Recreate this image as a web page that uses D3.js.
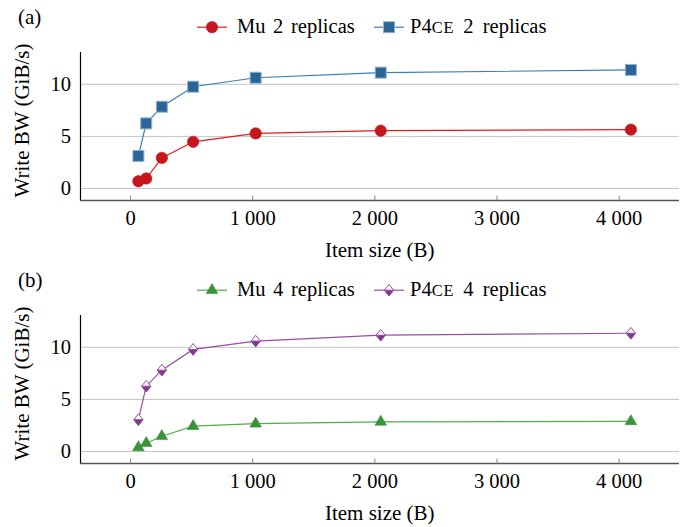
<!DOCTYPE html>
<html>
<head>
<meta charset="utf-8">
<script src="https://cdn.jsdelivr.net/npm/d3@7"></script>
<style>
  body { margin: 0; background: #fff; }
</style>
</head>
<body>
<div id="chart"></div>
<script>
// item sizes in bytes
let sizes = [64, 128, 256, 512, 1024, 2048, 4096]

// write bandwidth, GiB/s
let mu2 = [0.70, 0.96, 2.94, 4.48, 5.29, 5.55, 5.65]
let p4ce2 = [3.13, 6.25, 7.85, 9.77, 10.63, 11.12, 11.38]
let mu4 = [0.41, 0.80, 1.47, 2.44, 2.67, 2.85, 2.90]
let p4ce4 = [3.06, 6.27, 7.81, 9.80, 10.60, 11.16, 11.35]

let xTicks = [0, 1000, 2000, 3000, 4000]
let yTicks = [0, 5, 10]
let panelLabels = ['(a)', '(b)']

let width = 694
let height = 527
let fontFam = "'Liberation Serif', 'Times New Roman', serif"
let fs = 20.5

let svg = d3
  .select('#chart')
  .append('svg')
  .attr('width', width)
  .attr('height', height)
  .attr('font-family', fontFam)

let x = d3.scaleLinear().domain([-410, 4490]).range([80.5, 679])

function fmtX(v) {
  return d3.format(',')(v).replace(',', ' ')
}

function marker(g, kind, color, fill) {
  if (kind === 'circle') {
    g.append('circle').attr('r', 5.7).attr('fill', fill).attr('stroke', color).attr('stroke-width', 0.6)
  } else if (kind === 'square') {
    g.append('rect')
      .attr('x', -5.5).attr('y', -5.5).attr('width', 11).attr('height', 11)
      .attr('fill', fill).attr('stroke', color).attr('stroke-width', 1)
  } else if (kind === 'triangle') {
    g.append('path')
      .attr('d', 'M0,-6.6L5.8,3.4L-5.8,3.4Z')
      .attr('fill', fill).attr('stroke', color).attr('stroke-width', 0.6)
  } else if (kind === 'diamond') {
    g.append('path')
      .attr('d', 'M0,-5.8L4.6,0L0,5.8L-4.6,0Z')
      .attr('fill', '#fff').attr('stroke', color).attr('stroke-width', 1)
    g.append('path')
      .attr('d', 'M-4.6,0L4.6,0L0,5.8Z')
      .attr('fill', fill).attr('stroke', color).attr('stroke-width', 1)
  }
}

function drawPanel(top, label, series) {
  let y = d3.scaleLinear().domain([-1.15, 13.1]).range([top + 148.5, top])
  let g = svg.append('g')

  // grid lines
  g.selectAll('.grid')
    .data(yTicks)
    .enter()
    .append('line')
    .attr('x1', x.range()[0])
    .attr('x2', x.range()[1])
    .attr('y1', d => y(d))
    .attr('y2', d => y(d))
    .attr('stroke', '#c4c4c4')
    .attr('stroke-width', 1)

  // y tick labels
  g.selectAll('.ylab')
    .data(yTicks)
    .enter()
    .append('text')
    .attr('x', 71)
    .attr('y', d => y(d) + 6.8)
    .attr('text-anchor', 'end')
    .attr('font-family', fontFam)
    .attr('font-size', fs)
    .text(d => d)

  // x axis
  let bottom = y.range()[0]
  g.append('line')
    .attr('x1', x.range()[0]).attr('x2', x.range()[1])
    .attr('y1', bottom).attr('y2', bottom)
    .attr('stroke', '#555').attr('stroke-width', 1.3)
  g.selectAll('.xt')
    .data(xTicks)
    .enter()
    .append('line')
    .attr('x1', d => x(d)).attr('x2', d => x(d))
    .attr('y1', bottom).attr('y2', bottom - 5)
    .attr('stroke', '#888').attr('stroke-width', 1)
  g.selectAll('.xlab')
    .data(xTicks)
    .enter()
    .append('text')
    .attr('x', d => x(d))
    .attr('y', bottom + 24.5)
    .attr('text-anchor', 'middle')
    .attr('font-family', fontFam)
    .attr('font-size', fs)
    .text(d => fmtX(d))

  // y axis line
  g.append('line')
    .attr('x1', x.range()[0]).attr('x2', x.range()[0])
    .attr('y1', top).attr('y2', bottom)
    .attr('stroke', '#000').attr('stroke-width', 1.2)

  // axis titles
  g.append('text')
    .attr('x', (x.range()[0] + x.range()[1]) / 2)
    .attr('y', bottom + 56)
    .attr('text-anchor', 'middle')
    .attr('font-family', fontFam)
    .attr('font-size', fs + 0.5)
    .text('Item size (B)')
  g.append('text')
    .attr('transform', 'translate(29,' + (top + 68.5) + ') rotate(-90)')
    .attr('text-anchor', 'middle')
    .attr('font-family', fontFam)
    .attr('font-size', fs + 0.5)
    .text('Write BW (GiB/s)')

  // panel label
  g.append('text')
    .attr('x', 18)
    .attr('y', top - 28.5)
    .attr('font-family', fontFam)
    .attr('font-size', fs + 0.5)
    .text(label)

  // lines and markers
  let line = d3.line().x(d => x(d[0])).y(d => y(d[1]))
  series.forEach(s => {
    let pts = sizes.map((v, i) => [v, s.values[i]])
    g.append('path')
      .datum(pts)
      .attr('d', line)
      .attr('fill', 'none')
      .attr('stroke', s.line)
      .attr('stroke-width', 1.2)
    g.selectAll('.m')
      .data(pts)
      .enter()
      .append('g')
      .attr('transform', d => 'translate(' + x(d[0]) + ',' + y(d[1]) + ')')
      .each(function () {
        marker(d3.select(this), s.kind, s.stroke, s.fill)
      })
  })

  // legend
  let ly = top - 24.8
  let lx = [197, 374]
  series.forEach((s, i) => {
    let lg = g.append('g').attr('transform', 'translate(' + lx[i] + ',' + ly + ')')
    lg.append('line').attr('x1', 0).attr('x2', 30).attr('y1', 0).attr('y2', 0)
      .attr('stroke', s.line).attr('stroke-width', 1.2)
    let mg = lg.append('g').attr('transform', 'translate(15,0)')
    marker(mg, s.kind, s.stroke, s.fill)
    let t = lg.append('text')
      .attr('x', i === 0 ? 40 : 36)
      .attr('y', 6.2)
      .attr('font-family', fontFam)
      .attr('font-size', fs)
      .attr('word-spacing', i === 0 ? 2.5 : 4)
    if (s.name.startsWith('P4CE')) {
      t.append('tspan').text('P4')
      t.append('tspan').attr('font-size', fs * 0.8).attr('letter-spacing', 0.8).text('CE')
      t.append('tspan').text(s.name.slice(4))
    } else {
      t.text(s.name)
    }
  })
}

drawPanel(52, panelLabels[0], [
  { name: 'Mu 2 replicas', values: mu2, kind: 'circle', line: '#e41a1c', stroke: '#c01418', fill: '#c4161c' },
  { name: 'P4CE 2 replicas', values: p4ce2, kind: 'square', line: '#377eb8', stroke: '#8fb3d6', fill: '#2c6496' }
])
drawPanel(315, panelLabels[1], [
  { name: 'Mu 4 replicas', values: mu4, kind: 'triangle', line: '#4daf4a', stroke: '#3a923a', fill: '#3a923a' },
  { name: 'P4CE 4 replicas', values: p4ce4, kind: 'diamond', line: '#984ea3', stroke: '#984ea3', fill: '#7d3a8a' }
])
</script>
</body>
</html>
